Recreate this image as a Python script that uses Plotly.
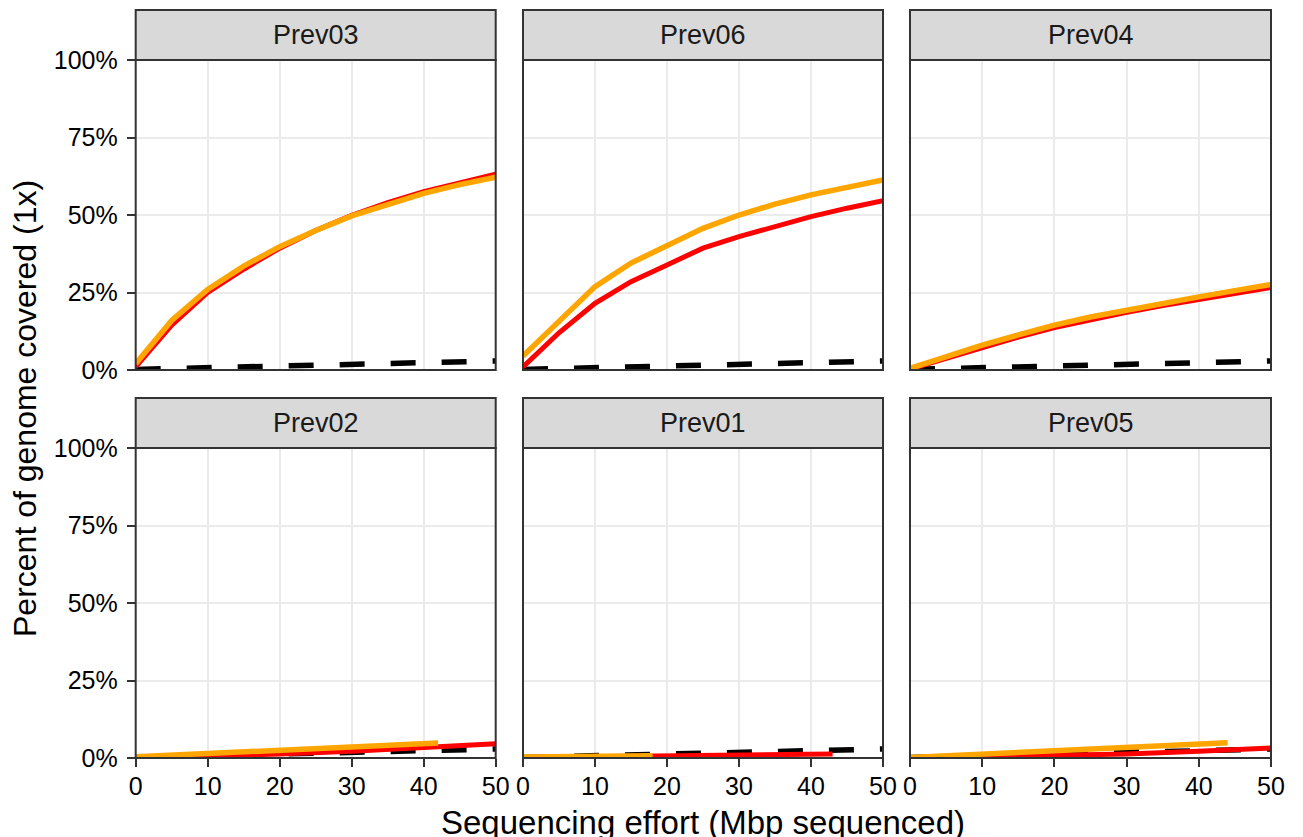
import plotly.graph_objects as go

# page body has an 8px margin; the figure is sized/positioned to compensate
PAGE_W, PAGE_H, OFF = 1303, 837, 8
W, H = PAGE_W - OFF, PAGE_H - OFF

# ---------------- data ----------------
panel_names = ["Prev03", "Prev06", "Prev04", "Prev02", "Prev01", "Prev05"]

x_full = [0, 5, 10, 15, 20, 25, 30, 35, 40, 45, 50]
dashed_y = [0.2, 0.5, 0.8, 1.1, 1.4, 1.7, 2.0, 2.3, 2.5, 2.7, 2.9]

prev03_red_y = [1.0, 14.5, 25.0, 32.5, 39.3, 45.0, 49.9, 54.0, 57.5, 60.5, 63.2]
prev03_orange_y = [2.0, 16.0, 26.0, 33.5, 39.8, 45.0, 49.7, 53.5, 57.0, 59.8, 62.2]

prev06_red_y = [1.0, 12.0, 21.5, 28.5, 33.9, 39.3, 43.0, 46.2, 49.5, 52.2, 54.6]
prev06_orange_y = [4.5, 16.0, 26.9, 34.5, 40.3, 45.7, 50.0, 53.5, 56.5, 59.0, 61.3]

prev04_red_y = [0.3, 3.8, 7.4, 10.6, 13.7, 16.3, 18.6, 20.8, 22.8, 24.7, 26.6]
prev04_orange_y = [0.5, 4.3, 8.0, 11.3, 14.5, 17.1, 19.4, 21.6, 23.6, 25.6, 27.6]

prev02_red_x = [0, 10, 20, 30, 40, 50]
prev02_red_y = [0.1, 0.5, 1.3, 2.2, 3.3, 4.6]
prev02_orange_x = [0, 10, 20, 30, 40, 42]
prev02_orange_y = [0.4, 1.4, 2.4, 3.4, 4.4, 4.8]

prev01_red_x = [0, 10, 18, 30, 43]
prev01_red_y = [0.2, 0.5, 0.8, 1.0, 1.3]
prev01_orange_x = [0, 5, 10, 18]
prev01_orange_y = [0.3, 0.4, 0.5, 0.7]

prev05_red_x = [0, 10, 20, 30, 40, 50]
prev05_red_y = [0.0, 0.3, 0.7, 1.3, 2.2, 3.2]
prev05_orange_x = [0, 10, 20, 30, 40, 44]
prev05_orange_y = [0.2, 1.2, 2.3, 3.4, 4.5, 4.9]

panel_series = [
    (x_full, prev03_red_y, x_full, prev03_orange_y),
    (x_full, prev06_red_y, x_full, prev06_orange_y),
    (x_full, prev04_red_y, x_full, prev04_orange_y),
    (prev02_red_x, prev02_red_y, prev02_orange_x, prev02_orange_y),
    (prev01_red_x, prev01_red_y, prev01_orange_x, prev01_orange_y),
    (prev05_red_x, prev05_red_y, prev05_orange_x, prev05_orange_y),
]

x_ticks = [0, 10, 20, 30, 40, 50]
y_ticks = [0, 25, 50, 75, 100]
y_tick_labels = ["0%", "25%", "50%", "75%", "100%"]

x_title = "Sequencing effort (Mbp sequenced)"
y_title = "Percent of genome covered (1x)"

# ---------------- layout geometry (page pixels) ----------------
col_px = [(135.7, 495.7), (523.0, 883.0), (910.0, 1271.0)]
row_px = [(60.0, 370.0), (448.0, 758.0)]   # panel top, bottom
strip_h = 50.0

RED = "#FF0000"
ORANGE = "#FFA500"
BORDER = "#333333"
GRID = "#EBEBEB"
STRIP = "#D9D9D9"
FONT = "Liberation Sans, Arial, Helvetica, sans-serif"

def fx(px):
    return (px - OFF) / W

def fy(py):
    return 1 - (py - OFF) / H

fig = go.Figure()
layout = {}
shapes = []
annotations = []

for i, name in enumerate(panel_names):
    r, c = divmod(i, 3)
    n = "" if i == 0 else str(i + 1)
    xa, ya = "x" + n, "y" + n
    x0, x1 = col_px[c]
    top, bot = row_px[r]
    xr, yr, xo, yo = panel_series[i]

    fig.add_trace(go.Scatter(x=x_full, y=dashed_y, mode="lines", xaxis=xa, yaxis=ya,
                             line=dict(color="black", width=5.5, dash="25px,26px"),
                             showlegend=False, hoverinfo="skip"))
    fig.add_trace(go.Scatter(x=xr, y=yr, mode="lines", xaxis=xa, yaxis=ya,
                             line=dict(color=RED, width=5),
                             showlegend=False))
    fig.add_trace(go.Scatter(x=xo, y=yo, mode="lines", xaxis=xa, yaxis=ya,
                             line=dict(color=ORANGE, width=5.5),
                             showlegend=False))

    layout["xaxis" + n] = dict(
        domain=[fx(x0), fx(x1)], anchor=ya, range=[0, 50], automargin=False,
        tickvals=x_ticks, showgrid=True, gridcolor=GRID, gridwidth=2,
        zeroline=False, showline=False,
        ticks="outside" if r == 1 else "", ticklen=8, tickwidth=2, tickcolor=BORDER,
        showticklabels=(r == 1), ticklabelstandoff=-2,
        tickfont=dict(size=25, color="black", family=FONT),
    )
    layout["yaxis" + n] = dict(
        domain=[fy(bot), fy(top)], anchor=xa, range=[0, 100], automargin=False,
        tickvals=y_ticks, ticktext=y_tick_labels, showgrid=True, gridcolor=GRID, gridwidth=2,
        zeroline=False, showline=False,
        ticks="outside" if c == 0 else "", ticklen=8, tickwidth=2, tickcolor=BORDER,
        showticklabels=(c == 0), ticklabelstandoff=4,
        tickfont=dict(size=25, color="black", family=FONT),
    )

    # strip
    shapes.append(dict(type="rect", xref="paper", yref="paper",
                       x0=fx(x0), x1=fx(x1), y0=fy(top), y1=fy(top - strip_h),
                       fillcolor=STRIP, line=dict(color=BORDER, width=2), layer="above"))
    # panel border
    shapes.append(dict(type="rect", xref="paper", yref="paper",
                       x0=fx(x0), x1=fx(x1), y0=fy(bot), y1=fy(top),
                       fillcolor="rgba(0,0,0,0)", line=dict(color=BORDER, width=2), layer="above"))
    annotations.append(dict(text=name, xref="paper", yref="paper",
                            x=fx((x0 + x1) / 2), y=fy(top - strip_h / 2),
                            xanchor="center", yanchor="middle", showarrow=False,
                            font=dict(size=27, color="#1A1A1A", family=FONT)))

annotations.append(dict(text=x_title, xref="paper", yref="paper",
                        x=fx((col_px[0][0] + col_px[2][1]) / 2), y=fy(822),
                        xanchor="center", yanchor="middle", showarrow=False,
                        font=dict(size=33, color="black", family=FONT)))
annotations.append(dict(text=y_title, xref="paper", yref="paper",
                        x=fx(25), y=fy(409), textangle=-90,
                        xanchor="center", yanchor="middle", showarrow=False,
                        font=dict(size=32, color="black", family=FONT)))

fig.update_layout(
    template="none",
    width=W, height=H,
    margin=dict(l=0, r=0, t=0, b=0, autoexpand=False),
    paper_bgcolor="white", plot_bgcolor="white",
    shapes=shapes, annotations=annotations,
    font=dict(family=FONT, color="black"),
    **layout,
)

fig.write_html("out.html")
